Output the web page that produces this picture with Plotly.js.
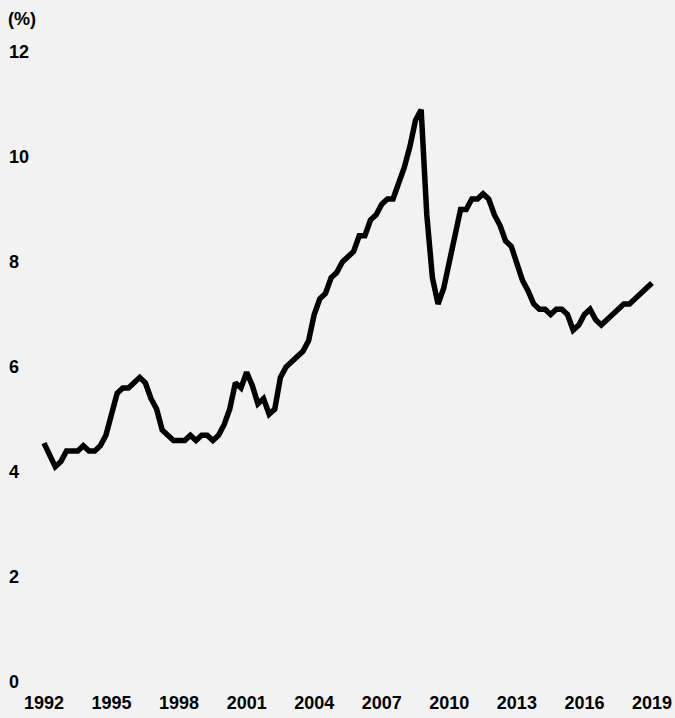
<!DOCTYPE html>
<html>
<head>
<meta charset="utf-8">
<script src="https://cdn.plot.ly/plotly-3.0.1.min.js"></script>
<style>html,body{margin:0;padding:0;background:#f2f2f2;}#chart{width:675px;height:718px;}</style>
</head>
<body>
<div id="chart"></div>
<script>
// Quarterly series, 1992 Q1 – 2019 Q1 (%)
const startYear = 1992;
const values = [
  4.55, 4.3, 4.1, 4.2, 4.4, 4.4, 4.4, 4.5, 4.4, 4.4,
  4.5, 4.7, 5.15, 5.5, 5.6, 5.6, 5.7, 5.8, 5.7, 5.4,
  5.2, 4.8, 4.7, 4.6, 4.6, 4.6, 4.7, 4.6, 4.7, 4.7,
  4.6, 4.7, 4.9, 5.2, 5.7, 5.6, 5.9, 5.65, 5.3, 5.4,
  5.1, 5.2, 5.8, 6.0, 6.1, 6.2, 6.3, 6.5, 7.0, 7.3,
  7.4, 7.7, 7.8, 8.0, 8.1, 8.2, 8.5, 8.5, 8.8, 8.9,
  9.1, 9.2, 9.2, 9.5, 9.8, 10.2, 10.7, 10.9, 8.9, 7.7,
  7.2, 7.5, 8.0, 8.4, 9.0, 9.0, 9.2, 9.2, 9.3, 9.2,
  8.9, 8.7, 8.4, 8.3, 8.0, 7.65, 7.45, 7.2, 7.1, 7.1,
  7.0, 7.1, 7.1, 7.0, 6.7, 6.8, 7.0, 7.1, 6.9, 6.8,
  6.9, 7.0, 7.1, 7.2, 7.2, 7.3, 7.4, 7.5, 7.6
];
const xTickVals = [1992, 1995, 1998, 2001, 2004, 2007, 2010, 2013, 2016, 2019];
const xTickText = ["1992", "1995", "1998", "2001", "2004", "2007", "2010", "2013", "2016", "2019"];
const yTickVals = [0, 2, 4, 6, 8, 10, 12];
const yTickText = ["0", "2", "4", "6", "8", "10", "12"];
const unitLabel = "(%)";

const xs = values.map((v, i) => startYear + i / 4);

const fontFamily = '"Liberation Sans", Arial, Helvetica, sans-serif';
const tickFont = {family: fontFamily, size: 18, color: '#000000', weight: 'bold'};

const trace = {
  x: xs, y: values, type: 'scatter', mode: 'lines',
  line: {color: '#000000', width: 5.5, shape: 'linear'},
  hoverinfo: 'skip'
};

const layout = {
  width: 675, height: 718,
  paper_bgcolor: '#f2f2f2', plot_bgcolor: '#f2f2f2',
  margin: {l: 6, r: 12, t: 52, b: 36},
  showlegend: false,
  xaxis: {
    range: [1990.313, 2019.49],
    tickvals: xTickVals, ticktext: xTickText,
    showgrid: false, zeroline: false, showline: false, ticks: '',
    ticklabeloverflow: 'allow', ticklabelstandoff: 8,
    tickfont: tickFont, fixedrange: true
  },
  yaxis: {
    range: [0, 12],
    tickvals: yTickVals, ticktext: yTickText,
    showgrid: false, zeroline: false, showline: false, ticks: '',
    ticklabelposition: 'inside', ticklabeloverflow: 'allow',
    tickfont: tickFont, fixedrange: true
  },
  annotations: [{
    text: unitLabel, xref: 'paper', yref: 'paper',
    x: 0, xanchor: 'left', y: 1 + 33 / 630, yanchor: 'middle',
    showarrow: false, font: {family: fontFamily, size: 18, color: '#000000', weight: 'bold'}
  }]
};

Plotly.newPlot('chart', [trace], layout, {displayModeBar: false, staticPlot: true});
</script>
</body>
</html>
